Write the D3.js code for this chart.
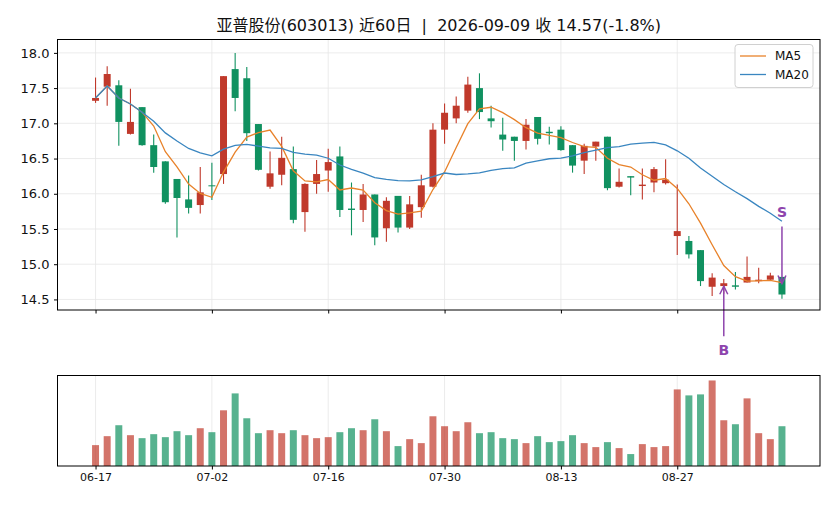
<!DOCTYPE html>
<html>
<head>
<meta charset="utf-8">
<script src="https://cdn.jsdelivr.net/npm/d3@7"></script>
<style>
  body { margin: 0; background: #fff; }
  svg { display: block; font-family: "DejaVu Sans", "Noto Sans CJK SC", sans-serif; }
</style>
</head>
<body>
<div id="chart"></div>
<script>
const dates = [
  "06-17", "06-18", "06-22", "06-23", "06-24", "06-25", "06-26", "06-29", "06-30",
  "07-01", "07-02", "07-03", "07-06", "07-07", "07-08", "07-09", "07-10", "07-13",
  "07-14", "07-15", "07-16", "07-17", "07-20", "07-21", "07-22", "07-23", "07-24",
  "07-27", "07-28", "07-29", "07-30", "07-31", "08-03", "08-04", "08-05", "08-06",
  "08-07", "08-10", "08-11", "08-12", "08-13", "08-14", "08-17", "08-18", "08-19",
  "08-20", "08-21", "08-24", "08-25", "08-26", "08-27", "08-28", "08-31", "09-01",
  "09-02", "09-03", "09-04", "09-07", "09-08", "09-09",
];
const open = [
  17.32, 17.52, 17.54, 16.85, 17.23, 16.69, 16.46, 16.21, 15.92, 15.84,
  16.12, 16.28, 17.77, 17.64, 16.99, 16.10, 16.27, 16.35, 15.74, 16.14,
  16.33, 16.53, 15.79, 15.77, 15.99, 15.51, 15.97, 15.52, 15.81, 16.10,
  16.91, 17.07, 17.18, 17.50, 17.07, 16.84, 16.81, 16.75, 17.09, 16.88,
  16.91, 16.69, 16.47, 16.67, 16.81, 16.10, 16.25, 16.11, 16.16, 16.15,
  15.40, 15.33, 15.20, 14.68, 14.69, 14.70, 14.74, 14.76, 14.78, 14.82,
];
const high = [
  17.65, 17.81, 17.61, 17.49, 17.23, 16.84, 16.46, 16.21, 16.26, 16.38,
  16.44, 17.67, 18.00, 17.80, 16.99, 16.60, 16.81, 16.67, 16.15, 16.48,
  16.64, 16.67, 16.16, 16.14, 15.99, 15.95, 15.97, 15.97, 16.27, 17.00,
  17.28, 17.38, 17.66, 17.71, 17.25, 17.08, 16.81, 17.06, 17.09, 16.95,
  16.96, 16.69, 16.71, 16.74, 16.81, 16.36, 16.25, 16.36, 16.38, 16.49,
  16.13, 15.40, 15.20, 14.87, 14.79, 14.89, 15.11, 14.95, 14.88, 14.82,
];
const low = [
  17.29, 17.25, 16.68, 16.84, 16.68, 16.30, 15.86, 15.38, 15.72, 15.72,
  15.91, 16.14, 17.17, 16.75, 16.33, 16.07, 16.12, 15.58, 15.46, 16.00,
  16.03, 15.67, 15.41, 15.60, 15.27, 15.32, 15.45, 15.50, 15.66, 16.09,
  16.71, 17.00, 17.15, 17.06, 16.94, 16.61, 16.47, 16.63, 16.70, 16.70,
  16.61, 16.30, 16.28, 16.47, 16.05, 16.09, 15.98, 15.92, 16.02, 16.13,
  15.13, 15.08, 14.69, 14.55, 14.58, 14.64, 14.74, 14.73, 14.76, 14.51,
];
const close = [
  17.36, 17.70, 17.02, 17.02, 16.69, 16.38, 15.88, 15.94, 15.80, 16.02,
  16.11, 17.67, 17.36, 16.86, 16.34, 16.29, 16.51, 15.63, 16.14, 16.28,
  16.45, 15.77, 15.77, 15.99, 15.38, 15.90, 15.52, 15.85, 16.12, 16.91,
  17.15, 17.25, 17.55, 17.16, 17.03, 16.77, 16.75, 16.98, 16.78, 16.86,
  16.62, 16.40, 16.68, 16.74, 16.08, 16.17, 16.23, 16.13, 16.35, 16.20,
  15.47, 15.14, 14.76, 14.81, 14.73, 14.68, 14.82, 14.78, 14.84, 14.57,
];
// volume, in 10k lots
const volume = [
  21, 30, 41, 31, 28, 32, 29, 35, 31, 38,
  34, 56, 73, 48, 33, 36, 33, 36, 31, 28,
  29, 34, 38, 36, 47, 35, 20, 27, 23, 50,
  40, 35, 44, 33, 34, 28, 27, 23, 30, 24,
  25, 31, 23, 19, 24, 18, 12, 22, 19, 20,
  77, 71, 72, 86, 46, 42, 68, 33, 27, 40,
];
const signalIndex = [54, 59];
const signalType = ["B", "S"];
const yTicks = [14.5, 15.0, 15.5, 16.0, 16.5, 17.0, 17.5, 18.0];
const title = "亚普股份(603013) 近60日  |  2026-09-09 收 14.57(-1.8%)";

const W = 836, H = 506;
const main = { left: 57.5, right: 820, top: 39.5, bottom: 310 };
const vol = { top: 375.5, bottom: 466 };

const upColor = "#c0392b", downColor = "#109160";
const ma5Color = "#e8822a", ma20Color = "#3a86c0";
const sigColor = "#8e44ad";

const n = close.length;
const idx = d3.range(n);

// moving averages over the shown window (shorter window at the start)
function movingAvg(k) {
  return idx.map((i) => d3.mean(close.slice(Math.max(0, i - k + 1), i + 1)));
}
const ma5 = movingAvg(5);
const ma20 = movingAvg(20);

const svg = d3.select("#chart").append("svg")
  .attr("width", W)
  .attr("height", H)
  .attr("viewBox", `0 0 ${W} ${H}`);

const x = d3.scaleLinear().domain([-3.27, n - 1 + 3.27]).range([main.left, main.right]);
const y = d3.scaleLinear().domain([14.35, 18.19]).range([main.bottom, main.top]);
const yv = d3.scaleLinear().domain([0, 91]).range([vol.bottom, vol.top]);
const bodyW = 0.6 * (x(1) - x(0));
const tickIdx = idx.filter((i) => i % 10 === 0);

// title
svg.append("text")
  .attr("x", (main.left + main.right) / 2)
  .attr("y", 31)
  .attr("text-anchor", "middle")
  .attr("font-size", "16px")
  .attr("fill", "#111")
  .attr("xml:space", "preserve")
  .style("white-space", "pre")
  .text(title);

// grids
const grid = svg.append("g").attr("stroke", "#e6e6e6").attr("stroke-width", 0.8);
grid.selectAll(".gy").data(yTicks).enter().append("line")
  .attr("x1", main.left).attr("x2", main.right)
  .attr("y1", (d) => y(d)).attr("y2", (d) => y(d));
grid.selectAll(".gx").data(tickIdx).enter().append("line")
  .attr("x1", (d) => x(d)).attr("x2", (d) => x(d))
  .attr("y1", main.top).attr("y2", main.bottom);
grid.selectAll(".gv").data(tickIdx).enter().append("line")
  .attr("x1", (d) => x(d)).attr("x2", (d) => x(d))
  .attr("y1", vol.top).attr("y2", vol.bottom);

// candles
const candles = svg.append("g").attr("class", "candles")
  .selectAll("g").data(idx).enter().append("g");
candles.append("line")
  .attr("x1", (i) => x(i)).attr("x2", (i) => x(i))
  .attr("y1", (i) => y(high[i])).attr("y2", (i) => y(low[i]))
  .attr("stroke", (i) => (close[i] >= open[i] ? upColor : downColor))
  .attr("stroke-width", 1.1);
candles.append("rect")
  .attr("x", (i) => x(i) - bodyW / 2)
  .attr("width", bodyW)
  .attr("y", (i) => y(Math.max(open[i], close[i])))
  .attr("height", (i) => Math.max(1, Math.abs(y(open[i]) - y(close[i]))))
  .attr("fill", (i) => (close[i] >= open[i] ? upColor : downColor));

// MA lines
const line = (arr) => d3.line().x((i) => x(i)).y((i) => y(arr[i]))(idx);
svg.append("path").attr("d", line(ma5)).attr("fill", "none")
  .attr("stroke", ma5Color).attr("stroke-width", 1.3);
svg.append("path").attr("d", line(ma20)).attr("fill", "none")
  .attr("stroke", ma20Color).attr("stroke-width", 1.3);

// buy / sell marks
const sig = svg.append("g").attr("class", "signals");
signalIndex.forEach((i, k) => {
  const isBuy = signalType[k] === "B";
  const base = y(close[i]);
  const tip = isBuy ? base + 3 : base - 11;
  const tail = isBuy ? base + 53 : base - 68;
  const ty = isBuy ? base + 67 : base - 83;
  const cx = x(i);
  const dir = isBuy ? 1 : -1;
  sig.append("line")
    .attr("x1", cx).attr("x2", cx).attr("y1", tail).attr("y2", tip)
    .attr("stroke", sigColor).attr("stroke-width", 1.5);
  sig.append("path")
    .attr("d", `M${cx - 4},${tip + dir * 8}L${cx},${tip}L${cx + 4},${tip + dir * 8}`)
    .attr("fill", "none").attr("stroke", sigColor).attr("stroke-width", 1.5);
  sig.append("text")
    .attr("x", cx).attr("y", ty)
    .attr("dy", "0.36em")
    .attr("text-anchor", "middle")
    .attr("font-size", "14px")
    .attr("font-weight", "bold")
    .attr("fill", sigColor)
    .text(signalType[k]);
});

// volume bars
svg.append("g").selectAll("rect").data(idx).enter().append("rect")
  .attr("x", (i) => x(i) - bodyW / 2)
  .attr("width", bodyW)
  .attr("y", (i) => yv(volume[i]))
  .attr("height", (i) => yv(0) - yv(volume[i]))
  .attr("fill", (i) => (close[i] >= open[i] ? upColor : downColor))
  .attr("fill-opacity", 0.7);

// axes
const yAxis = d3.axisLeft(y).tickValues(yTicks).tickFormat(d3.format(".1f")).tickSize(3.5).tickPadding(4.5);
svg.append("g").attr("transform", `translate(${main.left},0)`).call(yAxis)
  .call((g) => g.select(".domain").remove())
  .selectAll("text").attr("font-family", "DejaVu Sans").attr("font-size", "13px").attr("fill", "#111");

const xMainAxis = d3.axisBottom(x).tickValues(tickIdx).tickFormat("").tickSize(3.5);
svg.append("g").attr("transform", `translate(0,${main.bottom})`).call(xMainAxis)
  .call((g) => g.select(".domain").remove());

const xVolAxis = d3.axisBottom(x).tickValues(tickIdx).tickFormat((i) => dates[i]).tickSize(3.5).tickPadding(3.5);
svg.append("g").attr("transform", `translate(0,${vol.bottom})`).call(xVolAxis)
  .call((g) => g.select(".domain").remove())
  .selectAll("text").attr("font-family", "DejaVu Sans").attr("font-size", "11px").attr("fill", "#111");

// frames
svg.append("rect")
  .attr("x", main.left).attr("y", main.top)
  .attr("width", main.right - main.left).attr("height", main.bottom - main.top)
  .attr("fill", "none").attr("stroke", "#000").attr("stroke-width", 1);
svg.append("rect")
  .attr("x", main.left).attr("y", vol.top)
  .attr("width", main.right - main.left).attr("height", vol.bottom - vol.top)
  .attr("fill", "none").attr("stroke", "#000").attr("stroke-width", 1);

// legend
const legend = svg.append("g").attr("transform", "translate(735,44.5)");
legend.append("rect")
  .attr("width", 78).attr("height", 43).attr("rx", 3)
  .attr("fill", "#fff").attr("fill-opacity", 0.8)
  .attr("stroke", "#d0d0d0").attr("stroke-width", 1);
const legendItems = [["MA5", ma5Color], ["MA20", ma20Color]];
legendItems.forEach(([label, c], k) => {
  const ly = 11.5 + k * 18.5;
  legend.append("line")
    .attr("x1", 5).attr("x2", 31).attr("y1", ly).attr("y2", ly)
    .attr("stroke", c).attr("stroke-width", 1.3);
  legend.append("text")
    .attr("x", 40).attr("y", ly).attr("dy", "0.35em")
    .attr("font-size", "12px").attr("fill", "#111")
    .text(label);
});
</script>
</body>
</html>
